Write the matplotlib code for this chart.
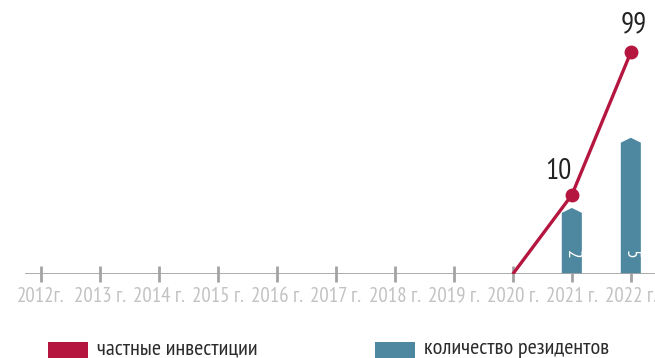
import numpy as np
import matplotlib
matplotlib.use('Agg')
import matplotlib.pyplot as plt
from matplotlib.patches import Polygon, Rectangle

plt.rcParams['font.family'] = ['PT Sans Narrow', 'DejaVu Sans']

years = list(range(2012, 2023))
year_labels = ['2012г.'] + [str(y) + ' г.' for y in years[1:]]

# private investment (line) and number of residents (bars)
inv_years = [2020, 2021, 2022]
investments = [0, 10, 99]
res_years = [2021, 2022]
residents = [2, 5]

red = '#b5163f'
teal = '#4e87a0'
axis_grey = '#a3a3a3'

W, H = 655, 358
fig = plt.figure(figsize=(W / 100, H / 100), dpi=100)
x0, x1 = 2011.73, 2022.41
ax = fig.add_axes([25 / W, (H - 274) / H, 630 / W, (274 - 10) / H])
ax.set_xlim(x0, x1)
ax.set_axisbelow(True)


def powscale(p):
    f = lambda v: np.sign(v) * np.abs(v) ** p
    g = lambda v: np.sign(v) * np.abs(v) ** (1 / p)
    return f, g


f_line, g_line = powscale(0.45)
f_bar, g_bar = powscale(0.79)
ax.set_yscale('function', functions=(f_line, g_line))
ax.set_ylim(0, 146)

# separate scale for the resident counts
ax2 = ax.twinx()
ax2.set_yscale('function', functions=(f_bar, g_bar))
ax2.set_ylim(0, 11.55)
ax2.set_xlim(x0, x1)
ax2.set_axis_off()

# bars with a pointed top, drawn on ax so they sit over the tick marks
bw = 0.34
tip = 0.13
for x, v in zip(res_years, residents):
    sh = g_bar(f_bar(v) - tip)
    pts = [(x - bw / 2, 0), (x - bw / 2, sh), (x, v), (x + bw / 2, sh), (x + bw / 2, 0)]
    ax.add_patch(Polygon(pts, closed=True, facecolor=teal, edgecolor='none',
                         transform=ax2.transData, zorder=2))
    ax.text(x, 0.42, str(v), rotation=-90, ha='center', va='center',
            color='white', fontsize=14, transform=ax2.transData, zorder=3.5)

ax.set_zorder(ax2.get_zorder() + 1)
ax.patch.set_visible(False)

ax.plot(inv_years, investments, color=red, lw=2.4, zorder=4, solid_capstyle='butt')
ax.plot(inv_years[1:], investments[1:], 'o', color=red, ms=9, zorder=5)
ax.annotate(str(investments[1]), (inv_years[1], investments[1]), xytext=(-10, 7),
            textcoords='offset points', ha='center', va='bottom', fontsize=21, color='#222222')
ax.annotate(str(investments[2]), (inv_years[2], investments[2]), xytext=(2, 10),
            textcoords='offset points', ha='center', va='bottom', fontsize=21, color='#222222')

for s in ('top', 'right', 'left', 'bottom'):
    ax.spines[s].set_visible(False)
ax.set_yticks([])

ax.axhline(0, color=axis_grey, lw=2, zorder=3)
ax.set_xticks(years)
ax.set_xticklabels(year_labels, fontsize=15, color='#c2c2c2')
ax.tick_params(axis='x', direction='inout', length=12, width=2, color=axis_grey, pad=3)

# legend
for px, label, c in [(48, 'частные инвестиции', red), (375, 'количество резидентов', teal)]:
    fig.patches.append(Rectangle((px / W, 0), 40 / W, 16 / H, transform=fig.transFigure,
                                 facecolor=c, edgecolor='none'))
    fig.text((px + 49) / W, 4 / H, label, fontsize=16, color='#2b2b2b', va='baseline')

fig.savefig('out.png', dpi=100)
